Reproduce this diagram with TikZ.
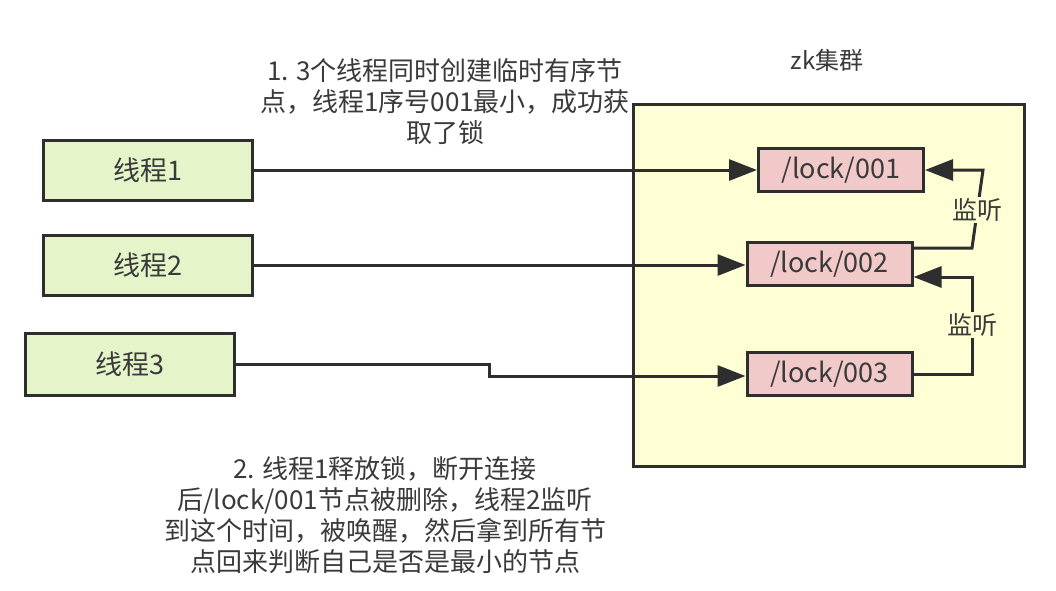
\documentclass[tikz,border=0pt]{standalone}
\usepackage{fontspec}
\setmainfont{Noto Sans CJK SC}
\usetikzlibrary{arrows.meta}
\definecolor{txt}{HTML}{3A3A3A}
\definecolor{edge}{HTML}{2E2E2E}
\definecolor{thrfill}{HTML}{E6F5C9}
\definecolor{zkfill}{HTML}{FFFFD6}
\definecolor{lockfill}{HTML}{F2C9C9}
\tikzset{
  thread/.style={draw=edge, line width=3pt, fill=thrfill, minimum width=209pt, minimum height=60pt, inner sep=0pt, font=\fontsize{27}{27}\selectfont, text=txt},
  locknode/.style={draw=edge, line width=3pt, fill=lockfill, minimum height=43pt, inner sep=0pt, font=\fontsize{27}{27}\selectfont, text=txt},
  conn/.style={draw=edge, line width=3pt, -{Triangle[length=28pt,width=21pt]}},
  note/.style={align=center, text=txt, font=\fontsize{26}{31}\selectfont, inner sep=0pt},
  lbl/.style={fill=zkfill, text=txt, font=\fontsize{25}{25}\selectfont, inner sep=2pt}
}
\begin{document}
\begin{tikzpicture}[x=1pt,y=-1pt]
\useasboundingbox[fill=white] (0,0) rectangle (1056,590);
\node[draw=edge, line width=3pt, fill=zkfill, minimum width=391pt, minimum height=362pt, inner sep=0pt] (zk) at (828.5,285) {};
\node[text=txt, font=\fontsize{24}{24}\selectfont] (zklabel) at (827,60) {zk集群};
\node[thread] (t1) at (147.5,170) {线程1};
\node[thread] (t2) at (147.5,265) {线程2};
\node[thread, minimum height=62pt] (t3) at (130,364) {线程3};
\node[locknode, minimum width=165pt] (l1) at (841,170) {/lock/001};
\node[locknode, minimum width=165pt] (l2) at (829.5,264) {/lock/002};
\node[locknode, minimum width=165pt] (l3) at (829.5,374) {/lock/003};
\coordinate (s1) at (489,364);
\coordinate (s2) at (489,376);
\draw[conn] (t1.east) -- (l1.west |- t1.east);
\draw[conn] (t2.east) -- (l2.west |- t2.east);
\draw[conn] (t3.east) -- (s1) -- (s2) -- (l3.west |- s2);
\coordinate (a1) at (972,248);
\coordinate (a2) at (983,170);
\draw[conn] (l2.east |- a1) -- (a1) -- (a2) -- (l1.east |- a2);
\node[lbl] (m1) at (977,210) {监听};
\coordinate (b1) at (972,374);
\coordinate (b2) at (972,277);
\draw[conn] (l3.east |- b1) -- (b1) -- (b2) -- (l2.east |- b2);
\node[lbl] (m2) at (972,325) {监听};
\node[note] (n1) at (445,102) {1. 3个线程同时创建临时有序节\\点，线程1序号001最小，成功获\\取了锁};
\node[note] (n2) at (385,515) {2. 线程1释放锁，断开连接\\后/lock/001节点被删除，线程2监听\\到这个时间，被唤醒，然后拿到所有节\\点回来判断自己是否是最小的节点};
\end{tikzpicture}
\end{document}
